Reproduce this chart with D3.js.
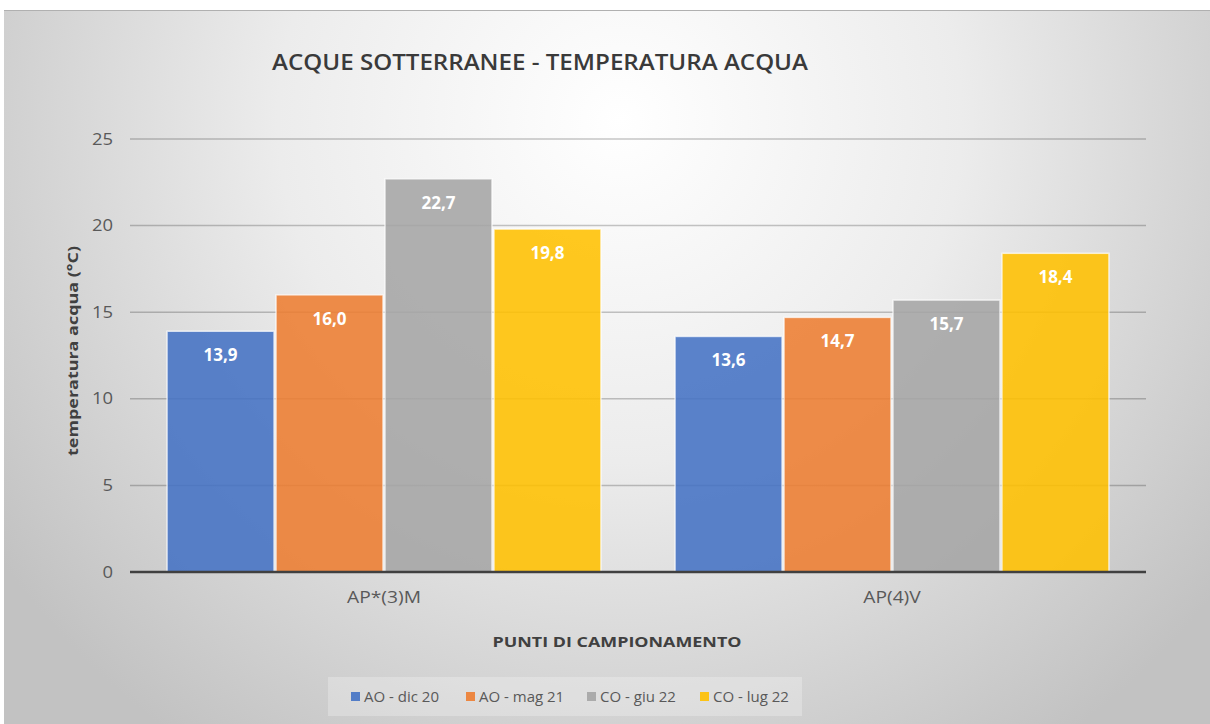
<!DOCTYPE html>
<html>
<head>
<meta charset="utf-8">
<script src="https://cdn.jsdelivr.net/npm/d3@7"></script>
<style>
  body { margin: 0; background: #fff; }
  svg { display: block; font-family: "Open Sans", "Noto Sans", sans-serif; }
</style>
</head>
<body>
<div id="chart"></div>
<script>
// data
var categories = ["AP*(3)M", "AP(4)V"];
var series = ["AO - dic 20", "AO - mag 21", "CO - giu 22", "CO - lug 22"];
var seriesColors = ["#4472C4", "#ED7D31", "#A5A5A5", "#FFC000"];
var valuesDic20 = [13.9, 13.6];
var valuesMag21 = [16.0, 14.7];
var valuesGiu22 = [22.7, 15.7];
var valuesLug22 = [19.8, 18.4];
var yTicks = [0, 5, 10, 15, 20, 25];

var allValues = [valuesDic20, valuesMag21, valuesGiu22, valuesLug22];

var W = 1210, H = 724;
var margin = { top: 139, right: 64, bottom: 152, left: 130 };
var width = W - margin.left - margin.right,
    height = H - margin.top - margin.bottom;
var FONT = '"Open Sans", "Noto Sans", sans-serif';

// the original text is drawn a bit wider than the font, stretch it
function stretch(sel, k) {
    sel.each(function() {
        var t = d3.select(this);
        t.attr("textLength", this.getComputedTextLength() * k)
         .attr("lengthAdjust", "spacingAndGlyphs");
    });
}

var svg = d3.select("#chart").append("svg")
    .attr("width", W)
    .attr("height", H);

// background gradient like the office chart area
var defs = svg.append("defs");
var grad = defs.append("radialGradient")
    .attr("id", "bg")
    .attr("gradientUnits", "userSpaceOnUse")
    .attr("cx", 620).attr("cy", 120).attr("r", 760);
grad.append("stop").attr("offset", "0").attr("stop-color", "#ffffff");
grad.append("stop").attr("offset", "0.45").attr("stop-color", "#ececec");
grad.append("stop").attr("offset", "1").attr("stop-color", "#c2c2c2");

svg.append("rect")
    .attr("x", 4).attr("y", 10)
    .attr("width", W - 4).attr("height", H - 10)
    .attr("fill", "url(#bg)");
svg.append("line")
    .attr("x1", 4).attr("x2", W).attr("y1", 10.5).attr("y2", 10.5)
    .attr("stroke", "#b0b0b0").attr("stroke-width", 1);

var g = svg.append("g")
    .attr("transform", "translate(" + margin.left + "," + margin.top + ")");

// scales
var x0 = d3.scaleBand()
    .domain(categories)
    .range([0, width])
    .paddingInner(0.142)
    .paddingOuter(0.071);

var x1 = d3.scaleBand()
    .domain(series)
    .range([0, x0.bandwidth()])
    .padding(0);

var y = d3.scaleLinear()
    .domain([0, 25])
    .range([height, 0]);

// gridlines
g.append("g")
    .selectAll("line")
    .data(yTicks.filter(function(d) { return d > 0; }))
    .enter().append("line")
    .attr("x1", 0).attr("x2", width)
    .attr("y1", function(d) { return y(d); })
    .attr("y2", function(d) { return y(d); })
    .attr("stroke", "rgba(0,0,0,0.22)")
    .attr("stroke-width", 1.5);

// y axis labels
var yAxis = d3.axisLeft(y).tickValues(yTicks).tickSize(0).tickPadding(17);
var yg = g.append("g").call(yAxis)
    .attr("font-family", FONT);
yg.select(".domain").remove();
yg.selectAll("text")
    .attr("fill", "#595959")
    .style("font-size", "16px");
stretch(yg.selectAll("text"), 1.15);

// bars
var groups = g.selectAll(".grp")
    .data(categories)
    .enter().append("g")
    .attr("class", "grp")
    .attr("transform", function(d) { return "translate(" + x0(d) + ",0)"; });

groups.selectAll("rect")
    .data(function(c, i) {
        return series.map(function(s, j) { return { s: s, v: allValues[j][i], c: seriesColors[j] }; });
    })
    .enter().append("rect")
    .attr("x", function(d) { return x1(d.s) + 1; })
    .attr("width", x1.bandwidth() - 2)
    .attr("y", function(d) { return y(d.v); })
    .attr("height", function(d) { return height - y(d.v); })
    .attr("fill", function(d) { return d.c; })
    .attr("fill-opacity", 0.88)
    .attr("stroke", "rgba(255,255,255,0.7)")
    .attr("stroke-width", 1.5);

groups.selectAll("text.lbl")
    .data(function(c, i) {
        return series.map(function(s, j) { return { s: s, v: allValues[j][i] }; });
    })
    .enter().append("text")
    .attr("class", "lbl")
    .attr("x", function(d) { return x1(d.s) + x1.bandwidth() / 2; })
    .attr("y", function(d) { return y(d.v) + 30; })
    .attr("text-anchor", "middle")
    .attr("fill", "#ffffff")
    .style("font-size", "17px")
    .style("font-weight", "bold")
    .text(function(d) { return d3.format(".1f")(d.v).replace(".", ","); });

// baseline
g.append("line")
    .attr("x1", 0).attr("x2", width)
    .attr("y1", height).attr("y2", height)
    .attr("stroke", "#404040")
    .attr("stroke-width", 2.5);

// x axis labels
var xAxis = d3.axisBottom(x0).tickSize(0).tickPadding(20);
var xg = g.append("g").attr("transform", "translate(0," + height + ")").call(xAxis)
    .attr("font-family", FONT);
xg.select(".domain").remove();
xg.selectAll("text")
    .attr("fill", "#595959")
    .style("font-size", "16px");
stretch(xg.selectAll("text"), 1.2);

// title
svg.append("text")
    .attr("x", 272).attr("y", 70)
    .attr("textLength", 536)
    .attr("lengthAdjust", "spacingAndGlyphs")
    .attr("fill", "#3a3a3a")
    .style("font-size", "22px")
    .style("font-weight", "600")
    .text("ACQUE SOTTERRANEE - TEMPERATURA ACQUA");

// axis titles
svg.append("text")
    .attr("transform", "translate(78," + 351 + ") rotate(-90)")
    .attr("text-anchor", "middle")
    .attr("fill", "#404040")
    .attr("textLength", 210)
    .attr("lengthAdjust", "spacingAndGlyphs")
    .style("font-size", "15px")
    .style("font-weight", "bold")
    .text("temperatura acqua (°C)");

svg.append("text")
    .attr("x", 617).attr("y", 647)
    .attr("text-anchor", "middle")
    .attr("fill", "#404040")
    .attr("textLength", 249)
    .attr("lengthAdjust", "spacingAndGlyphs")
    .style("font-size", "15px")
    .style("font-weight", "bold")
    .text("PUNTI DI CAMPIONAMENTO");

// legend
svg.append("rect")
    .attr("x", 328).attr("y", 677)
    .attr("width", 474).attr("height", 39)
    .attr("fill", "rgba(255,255,255,0.25)");

var legendX = [351, 466, 587, 700];
var legend = svg.selectAll(".leg")
    .data(series)
    .enter().append("g")
    .attr("class", "leg")
    .attr("transform", function(d, i) { return "translate(" + legendX[i] + ",697)"; });
legend.append("rect")
    .attr("x", 0).attr("y", -5)
    .attr("width", 9).attr("height", 9)
    .attr("fill", function(d, i) { return seriesColors[i]; })
    .attr("fill-opacity", 0.9);
legend.append("text")
    .attr("x", 13).attr("y", 5)
    .attr("fill", "#595959")
    .style("font-size", "15px")
    .text(function(d) { return d; });
</script>
</body>
</html>
